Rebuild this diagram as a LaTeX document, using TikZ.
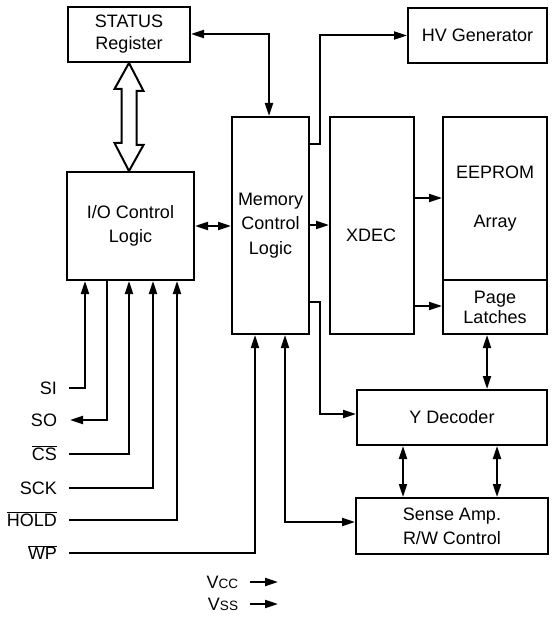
\documentclass[tikz,border=0pt]{standalone}
\usepackage{fontspec}
\setmainfont{Liberation Sans}
\usetikzlibrary{arrows.meta}
\newcommand{\ovl}[1]{$\overline{\mbox{#1}}$}
\begin{document}
\begin{tikzpicture}[x=1pt,y=-1pt, line width=2pt,
  box/.style={draw, line width=2pt, rectangle, anchor=north west, inner sep=0pt, align=center, font=\fontsize{18}{24}\selectfont},
  lbl/.style={font=\fontsize{18}{24}\selectfont, inner sep=0pt, align=center},
  pin/.style={font=\fontsize{18}{24}\selectfont, inner sep=0pt, anchor=base east},
  arr/.style={-{Triangle[length=13pt,width=8pt]}},
  darr/.style={{Triangle[length=13pt,width=8pt]}-{Triangle[length=13pt,width=8pt]}}]
\useasboundingbox (0,0) rectangle (554,617);

% boxes
\node[box, minimum width=122pt, minimum height=55pt] (status) at (67,6) {STATUS\\[-2pt]Register};
\node[box, minimum width=127pt, minimum height=108pt] (io) at (66,171) {I/O Control\\Logic};
\node[box, minimum width=77pt, minimum height=217pt] (mem) at (231,116) {Memory\\[0.5pt]Control\\[0.5pt]Logic};
\node[box, minimum width=84pt, minimum height=217pt] (xdec) at (329,116) {};
\node[lbl] (xdectext) at (371,235) {XDEC};
\node[box, minimum width=104pt, minimum height=163pt] (eeprom) at (442,116) {EEPROM\\[25pt]Array};
\node[box, minimum width=104pt, minimum height=54pt] (latch) at (442,279) {Page\\[-4pt]Latches};
\node[box, minimum width=139pt, minimum height=55pt] (hv) at (407,7) {HV Generator};
\node[box, minimum width=190pt, minimum height=55pt] (ydec) at (356,389) {Y Decoder};
\node[box, minimum width=192pt, minimum height=56pt] (sense) at (355,497) {Sense Amp.\\R/W Control};

% hollow double arrow between STATUS and I/O
\draw[line width=2pt, line join=miter, fill=white]
  (status.south -| 129,0) -- ++(14.5,28) -- ++(-7,0) -- ++(0,54) -- ++(7,0)
  -- (io.north -| 129,0) -- ++(-14.5,-28) -- ++(7,0) -- ++(0,-54) -- ++(-7,0) -- cycle;

% internal connectors
\draw[darr] (status.east |- 0,34) -| (mem.north -| 269,0);
\draw[darr] (io.east |- 0,226) -- (mem.west |- 0,226);
\draw[arr] (mem.east |- 0,225) -- (xdec.west |- 0,225);
\draw[arr] (mem.east |- 0,144) -- (320,144) |- (hv.west);
\draw[arr] (xdec.east |- 0,198) -- (eeprom.west |- 0,198);
\draw[arr] (xdec.east |- 0,306) -- (latch.west |- 0,306);
\draw[arr] (mem.east |- 0,302) -- (320,302) |- (ydec.west |- 0,414);
\draw[darr] (latch.south -| 487,0) -- (ydec.north -| 487,0);
\draw[darr] (ydec.south -| 403,0) -- (sense.north -| 403,0);
\draw[darr] (ydec.south -| 497,0) -- (sense.north -| 497,0);
\draw[darr] (mem.south -| 285,0) |- (sense.west |- 0,522);

% pins
\node[pin] (si) at (58,394.5) {SI};
\node[pin] (so) at (58,426.5) {SO};
\node[pin] (cs) at (58,460.5) {\ovl{CS}};
\node[pin] (sck) at (58,494.5) {SCK};
\node[pin] (hold) at (58,526.5) {\ovl{HOLD}};
\node[pin] (wp) at (58,559.5) {\ovl{WP}};
\coordinate (soend) at (70,420);

\draw[arr] (69,388) -| (io.south -| 85,0);
\draw[arr] (io.south -| 107,0) |- (soend);
\draw[arr] (69,454) -| (io.south -| 129,0);
\draw[arr] (69,488) -| (io.south -| 153,0);
\draw[arr] (69,520) -| (io.south -| 177,0);
\draw[arr] (69,553) -| (mem.south -| 255,0);

% power
\node[pin] (vcc) at (239,588) {V{\fontsize{13.5}{13.5}\selectfont CC}};
\node[pin] (vss) at (239,610) {V{\fontsize{13.5}{13.5}\selectfont SS}};
\coordinate (vccend) at (278,582);
\coordinate (vssend) at (278,604);
\draw[arr] (250,582) -- (vccend);
\draw[arr] (250,604) -- (vssend);
\end{tikzpicture}
\end{document}
